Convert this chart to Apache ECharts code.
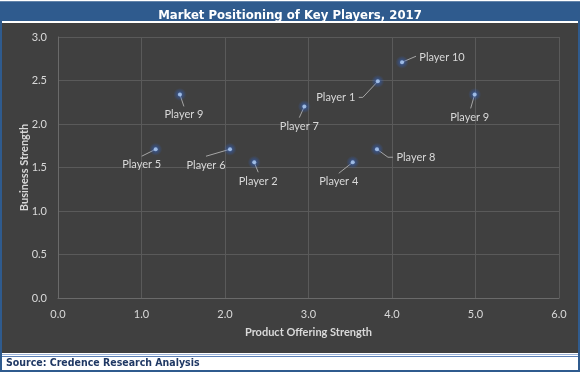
<!DOCTYPE html>
<html><head><meta charset="utf-8">
<script src="https://cdn.jsdelivr.net/npm/echarts@6/dist/echarts.min.js"></script>
<style>html,body{margin:0;padding:0;background:#fff}#c{width:580px;height:372px}</style>
</head><body><div id="c"></div>
<script>
const players = ['Player 5','Player 9','Player 6','Player 2','Player 7','Player 1','Player 10','Player 9','Player 8','Player 4'];
const productStrength = [1.17, 1.46, 2.06, 2.35, 2.95, 3.83, 4.12, 4.99, 3.82, 3.53];
const businessStrength = [1.71, 2.34, 1.71, 1.56, 2.2, 2.49, 2.71, 2.34, 1.71, 1.56];
const xTicks = ['0.0','1.0','2.0','3.0','4.0','5.0','6.0'];

// label placement (pixel offsets from each point)
const leaderPaths = [
  [[-14,7]], [[4,12]], [[-24,7]], [[4,10]], [[-5,11]],
  [[-15,16],[-19,16]], [[14,-6]], [[-4,14]], [[11,8],[16,8]], [[-14,11]]
];
const textOffsets = [[-14,15],[4,20],[-24,16],[4,19],[-5,20],[-42,16],[40,-5],[-5,23],[39,8],[-14,19]];

const chart = echarts.init(document.getElementById('c'));
const data = players.map((p,i)=>({name:p, value:[productStrength[i], businessStrength[i]]}));
const labelFont = '11px Lato';
chart.setOption({
  animation:false,
  backgroundColor:'#2F5B8E',
  graphic:[
    {type:'rect',shape:{x:0,y:0,width:580,height:1.2},style:{fill:'#ffffff'},z:-1},
    {type:'rect',shape:{x:2,y:21,width:576,height:2},style:{fill:'#ffffff'},z:-1},
    {type:'rect',shape:{x:2,y:23,width:576,height:330},style:{fill:'#404040'},z:-1},
    {type:'rect',shape:{x:2,y:353,width:576,height:5},style:{fill:'#ffffff'},z:-1},
    {type:'rect',shape:{x:2,y:354,width:576,height:1},style:{fill:'#9DB4DA'},z:-1},
    {type:'rect',shape:{x:2,y:356,width:576,height:1},style:{fill:'#5A80B8'},z:-1},
    {type:'rect',shape:{x:2,y:357,width:576,height:13},style:{fill:'#ffffff'},z:-1},
    {type:'text',left:6,top:358,style:{text:'Source: Credence Research Analysis',fill:'#1F3864',font:'bold 10.5px "DejaVu Sans Condensed"'}}
  ],
  title:{text:'Market Positioning of Key Players, 2017',left:'center',top:4,
    textStyle:{color:'#ffffff',fontFamily:'DejaVu Sans Condensed',fontWeight:'bold',fontSize:13}},
  grid:{left:58,top:37,right:21,bottom:74},
  xAxis:{type:'value',min:0,max:6,interval:1,
    name:'Product Offering Strength',nameLocation:'middle',nameGap:29,nameMoveOverlap:false,
    nameTextStyle:{color:'#D9D9D9',fontWeight:'bold',fontSize:11,fontFamily:'Lato'},
    axisLine:{show:true,lineStyle:{color:'#6a6a6a'}},axisTick:{show:false},
    axisLabel:{color:'#D9D9D9',fontSize:11,fontFamily:'Lato',margin:11,formatter:(v)=>xTicks[Math.round(v)]},
    splitLine:{show:true,lineStyle:{color:'#5a5a5a'}}},
  yAxis:{type:'value',min:0,max:3,interval:0.5,
    name:'Business Strength',nameLocation:'middle',nameGap:28,nameMoveOverlap:false,
    nameTextStyle:{color:'#D9D9D9',fontWeight:'bold',fontSize:11,fontFamily:'Lato'},
    axisLine:{show:true,lineStyle:{color:'#6a6a6a'}},axisTick:{show:false},
    axisLabel:{color:'#D9D9D9',fontSize:11,fontFamily:'Lato',margin:11,formatter:(v)=>v.toFixed(1)},
    splitLine:{show:true,lineStyle:{color:'#5a5a5a'}}},
  series:[
    {type:'custom',data:data,z:2,silent:true,
     renderItem:(params,api)=>{
       const i=params.dataIndex;
       const p=api.coord([api.value(0),api.value(1)]);
       const pts=[[p[0],p[1]]].concat(leaderPaths[i].map(o=>[p[0]+o[0],p[1]+o[1]]));
       const t=textOffsets[i];
       return {type:'group',children:[
         {type:'polyline',shape:{points:pts},style:{stroke:'#A6A6A6',lineWidth:1,fill:null}},
         {type:'text',x:p[0]+t[0],y:p[1]+t[1],style:{text:players[i],fill:'#D9D9D9',font:labelFont,align:'center',verticalAlign:'middle'}}
       ]};
     }},
    {type:'scatter',data:data,symbolSize:13,z:3,silent:true,
     itemStyle:{color:{type:'radial',x:0.5,y:0.5,r:0.5,colorStops:[
       {offset:0,color:'rgba(60,120,220,0.85)'},{offset:0.5,color:'rgba(50,100,200,0.45)'},{offset:1,color:'rgba(50,100,200,0)'}]}}},
    {type:'scatter',data:data,symbolSize:4,z:4,
     itemStyle:{color:'#B4D0F4'}}
  ]
});
</script></body></html>
